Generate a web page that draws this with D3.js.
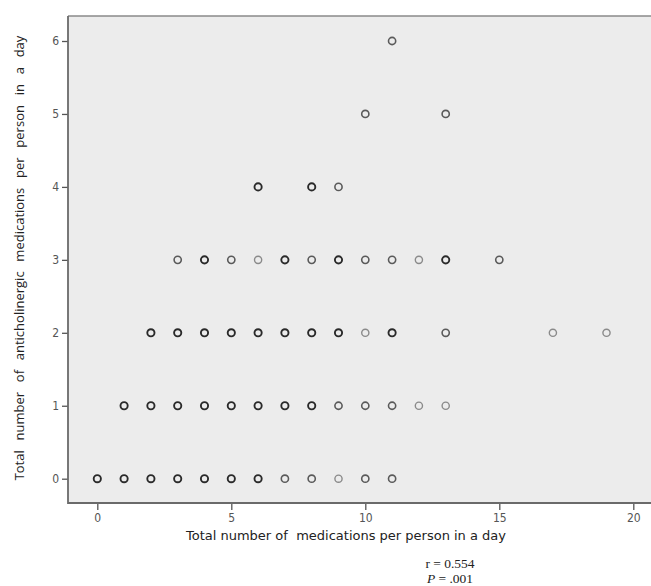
<!DOCTYPE html>
<html><head><meta charset="utf-8">
<script src="https://cdn.jsdelivr.net/npm/d3@7"></script>
<style>body{margin:0;background:#fff}svg{display:block}</style>
</head><body>
<script>
// Data: total meds (x), anticholinergic meds (y), overlap level (darkness 1-3)
const totalMeds =    [0,1,2,3,4,5,6,7,8,9,10,11, 1,2,3,4,5,6,7,8,9,10,11,12,13, 2,3,4,5,6,7,8,9,10,11,13,17,19, 3,4,5,6,7,8,9,10,11,12,13,15, 6,8,9, 10,13, 11];
const antiMeds =     [0,0,0,0,0,0,0,0,0,0,0,0, 1,1,1,1,1,1,1,1,1,1,1,1,1, 2,2,2,2,2,2,2,2,2,2,2,2,2, 3,3,3,3,3,3,3,3,3,3,3,3, 4,4,4, 5,5, 6];
const overlap =      [3,3,3,3,3,3,3,2,2,1,2,2, 3,3,3,3,3,3,3,3,2,2,2,1,1, 3,3,3,3,3,3,3,3,1,3,2,1,1, 2,3,2,1,3,2,3,2,2,1,3,2, 3,3,2, 2,2, 2];
const xTicks = [0,5,10,15,20];
const yTicks = [0,1,2,3,4,5,6];
const xTitle = "Total number of  medications per person in a day";
const yTitle = "Total  number  of  anticholinergic  medications  per  person  in  a  day";

const W = 651, H = 586;
const svg = d3.select("body").append("svg").attr("width", W).attr("height", H);

const x = d3.scaleLinear().domain([0,20]).range([97.3,633.3]);
const y = d3.scaleLinear().domain([0,6]).range([478.7,41]);

const pL = 68, pT = 16, pB = 503, pR = 660;
svg.append("rect").attr("x", pL).attr("y", pT).attr("width", pR-pL).attr("height", pB-pT)
  .attr("fill", "#ececec");
svg.append("line").attr("x1", pL).attr("x2", pR).attr("y1", pT).attr("y2", pT)
  .attr("stroke", "#8a8a8a").attr("stroke-width", 1.5);

const xAxis = svg.append("g").attr("transform", `translate(0,${pB})`)
  .call(d3.axisBottom(x).tickValues(xTicks).tickSize(7).tickPadding(3).tickFormat(d3.format("d")));
xAxis.select(".domain").remove();
xAxis.append("line").attr("x1", pL).attr("x2", pR).attr("stroke", "#6a6a6a").attr("stroke-width", 1.8);

const yAxis = svg.append("g").attr("transform", `translate(${pL},0)`)
  .call(d3.axisLeft(y).tickValues(yTicks).tickSize(6).tickPadding(3).tickFormat(d3.format("d")));
yAxis.select(".domain").remove();
yAxis.append("line").attr("y1", pT).attr("y2", pB+1).attr("stroke", "#6a6a6a").attr("stroke-width", 1.8);

[xAxis, yAxis].forEach(g => {
  g.selectAll(".tick line").attr("stroke", "#555").attr("stroke-width", 1.3);
  g.selectAll(".tick text").attr("fill", "#555").style("font-family", "'DejaVu Sans Condensed','DejaVu Sans',sans-serif").style("font-size", "12px");
});

const shade = {1:"#8a8a8a", 2:"#5a5a5a", 3:"#2a2a2a"};
const sw = {1:1.4, 2:1.6, 3:1.9};
svg.append("g").selectAll("circle").data(totalMeds.map((v,i)=>({x:v, y:antiMeds[i], o:overlap[i]})))
  .join("circle")
  .attr("cx", d => x(d.x)).attr("cy", d => y(d.y)).attr("r", 3.6)
  .attr("fill", "none").attr("stroke", d => shade[d.o]).attr("stroke-width", d => sw[d.o]);

svg.append("text").attr("x", 346).attr("y", 540).attr("text-anchor", "middle")
  .style("white-space", "pre")
  .style("font-family", "'DejaVu Sans',sans-serif").style("font-size", "13px").attr("fill", "#222")
  .text(xTitle);

svg.append("text").attr("transform", "translate(24,258) rotate(-90)").attr("text-anchor", "middle")
  .style("white-space", "pre").style("word-spacing", "1.5px")
  .style("font-family", "'Open Sans',sans-serif").style("font-size", "13px").attr("fill", "#222")
  .text(yTitle);

const st = svg.append("g").style("font-family", "'Liberation Serif','Times New Roman',serif").style("font-size", "13.5px").attr("fill", "#222");
st.append("text").attr("x", 450).attr("y", 568).attr("text-anchor", "middle").text("r = 0.554");
const p = st.append("text").attr("x", 450).attr("y", 583).attr("text-anchor", "middle");
p.append("tspan").style("font-style", "italic").text("P");
p.append("tspan").text(" = .001");
</script>
</body></html>
